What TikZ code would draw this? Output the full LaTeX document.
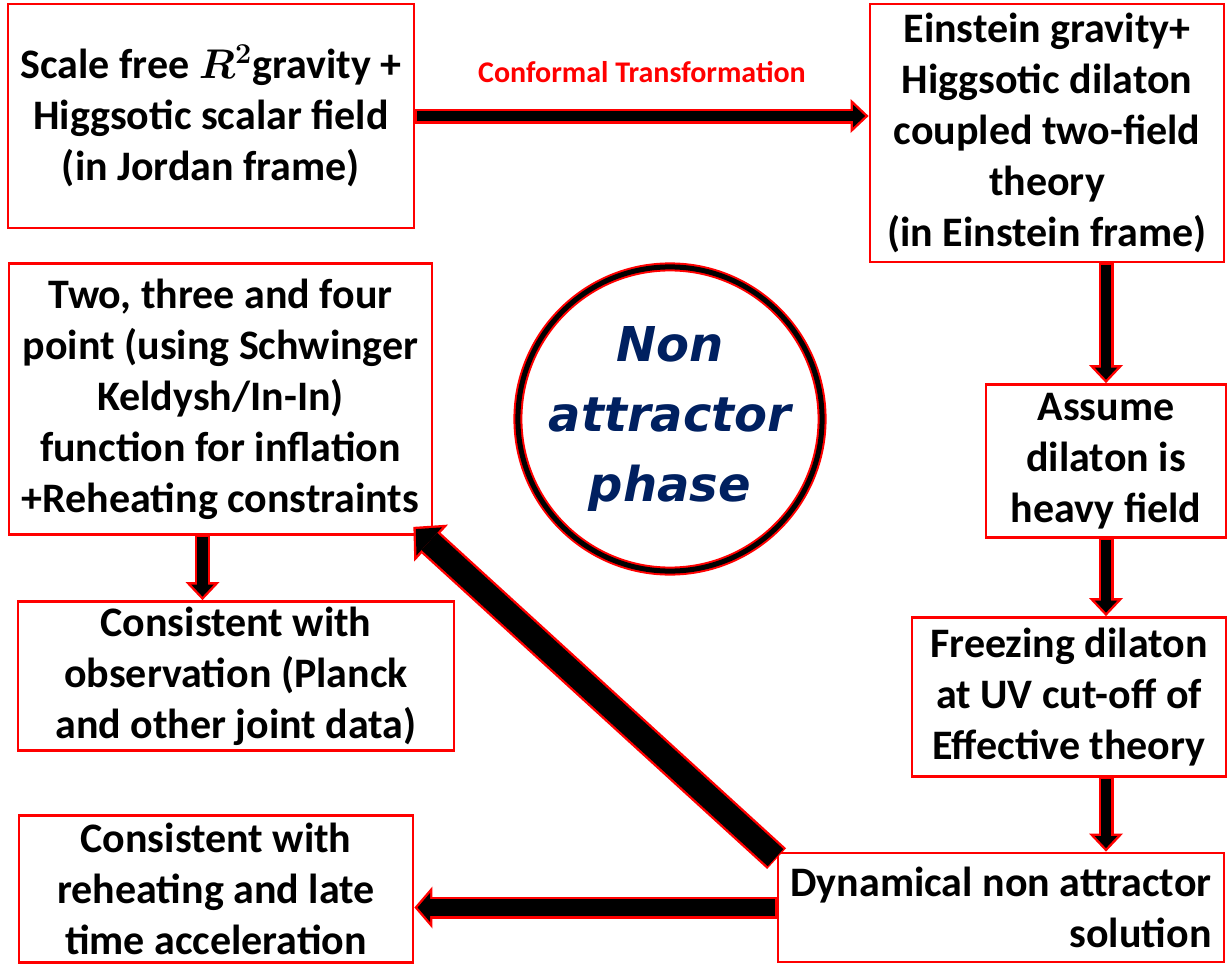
\documentclass[tikz,border=0pt]{standalone}
\usepackage{fontspec}
\setmainfont{Carlito}
\newfontfamily\phasefont{DejaVu Sans}
\usetikzlibrary{arrows.meta}
\definecolor{navy}{RGB}{0,32,96}

\begin{document}
\begin{tikzpicture}[x=0.5pt,y=-0.5pt,
  box/.style={draw=red,line width=1.4pt,align=center,inner sep=0pt,fill=white,font=\fontsize{21}{25.5}\selectfont\bfseries\boldmath},
  redS/.style={red,line width=7.5pt,-{Triangle[length=9pt,width=17pt,line width=0pt]}},
  blkS/.style={black,line width=5.1pt,shorten <=0.7pt,shorten >=1.75pt,-{Triangle[length=6.05pt,width=11.4pt,line width=0pt]}},
  redM/.style={red,line width=11pt,-{Triangle[length=9pt,width=21pt,line width=0pt]}},
  blkM/.style={black,line width=8.6pt,shorten <=0.7pt,shorten >=1.6pt,-{Triangle[length=6.2pt,width=14.5pt,line width=0pt]}},
  redL/.style={red,line width=14pt,-{Triangle[length=12pt,width=25pt,line width=0pt]}},
  blkL/.style={black,line width=11.6pt,shorten <=0.7pt,shorten >=1.65pt,-{Triangle[length=9.1pt,width=19pt,line width=0pt]}}]
\useasboundingbox (0,0) rectangle (1228,969);
\node[box,minimum width=203pt,minimum height=112pt] (jordan) at (211,116) {Scale free $R^2$gravity +\\Higgsotic scalar field\\(in Jordan frame)};
\node[box,minimum width=177pt,minimum height=129pt] (einstein) at (1047,133) {Einstein gravity+\\Higgsotic dilaton\\coupled two-field\\theory\\(in Einstein frame)};
\node[box,minimum width=120pt,minimum height=76.5pt] (heavy) at (1106,461) {Assume\\dilaton is\\heavy field};
\node[box,minimum width=157pt,minimum height=79.5pt] (freeze) at (1069,697) {Freezing dilaton\\at UV cut-off of\\Effective theory};
\node[box,align=right,minimum width=223pt,minimum height=54.5pt] (dyn) at (1001,907.5) {Dynamical non attractor\\solution};
\node[box,minimum width=211.5pt,minimum height=135.5pt] (corr) at (220.5,399) {Two, three and four\\point (using Schwinger\\Keldysh/In-In)\\function for inflation\\+Reheating constraints};
\node[box,minimum width=218pt,minimum height=74.5pt] (obs) at (236,676) {Consistent with\\observation (Planck\\and other joint data)};
\node[box,minimum width=197pt,minimum height=73.5pt] (late) at (216,889) {Consistent with\\reheating and late\\time acceleration};
\node[draw=red,line width=1pt,double=black,double distance=2.5pt,circle,minimum size=138.5pt,inner sep=0pt,text=navy,align=center,font=\phasefont\fontsize{24}{35}\selectfont\bfseries\itshape] (phase) at (670,419) {Non\\attractor\\phase};
% block arrows: red outline first, black core on top
\draw[redS] (jordan.east) -- (einstein.west |- jordan.east) node[midway,yshift=22pt,text=red,font=\fontsize{15}{18}\selectfont\bfseries] (conf) {Conformal Transformation};
\draw[blkS] (jordan.east) -- (einstein.west |- jordan.east);
\draw[redS] (heavy.north |- einstein.south) -- (heavy.north);
\draw[blkS] (heavy.north |- einstein.south) -- (heavy.north);
\draw[redS] (heavy.south) -- (heavy.south |- freeze.north);
\draw[blkS] (heavy.south) -- (heavy.south |- freeze.north);
\draw[redS] (heavy.south |- freeze.south) -- (heavy.south |- dyn.north);
\draw[blkS] (heavy.south |- freeze.south) -- (heavy.south |- dyn.north);
\draw[redS] ([xshift=-9pt]corr.south) -- ([xshift=-9pt]corr.south |- obs.north);
\draw[blkS] ([xshift=-9pt]corr.south) -- ([xshift=-9pt]corr.south |- obs.north);
\draw[redM] (dyn.west) -- (late.east |- dyn.west);
\draw[blkM] (dyn.west) -- (late.east |- dyn.west);
\draw[redL] ([yshift=-3.5pt]dyn.north west) -- ([xshift=-10pt,yshift=4.5pt]corr.south east);
\draw[blkL] ([yshift=-3.5pt]dyn.north west) -- ([xshift=-10pt,yshift=4.5pt]corr.south east);
\end{tikzpicture}
\end{document}
